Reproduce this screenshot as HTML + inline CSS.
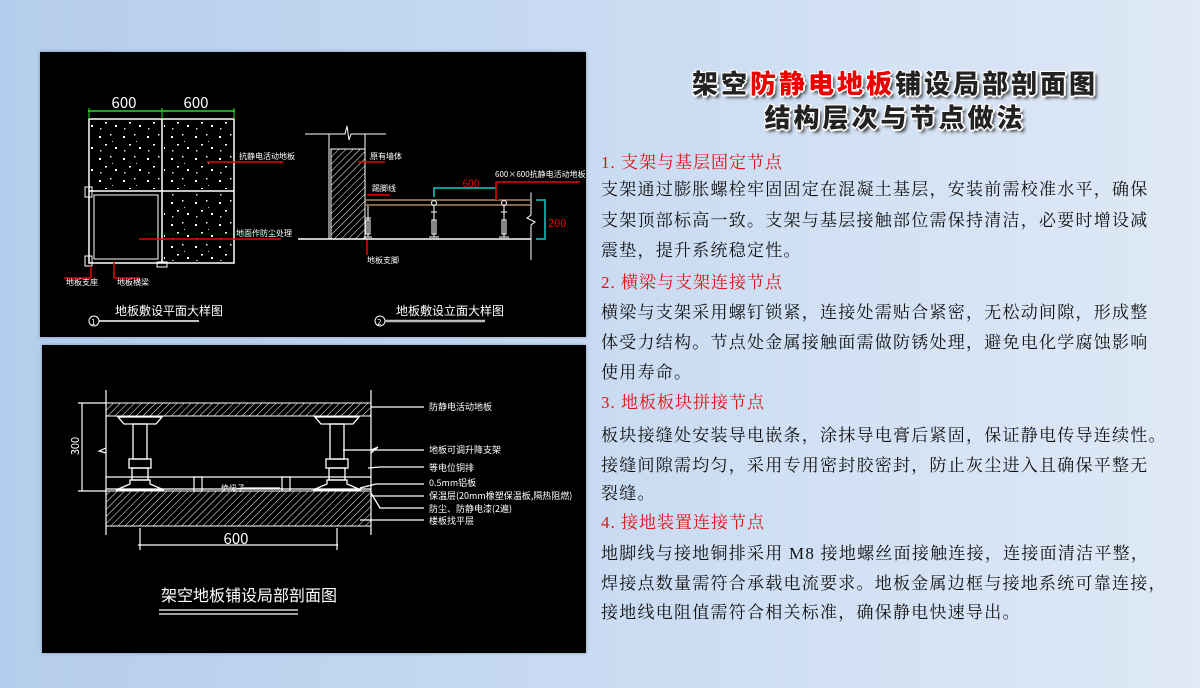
<!DOCTYPE html>
<html><head><meta charset="utf-8"><style>
html,body{margin:0;padding:0}
body{width:1200px;height:688px;position:relative;overflow:hidden;background:linear-gradient(90deg,#b4cdec 0%,#c9dbf2 50%,#dfe9f7 100%);font-family:"Liberation Serif","Noto Serif CJK SC",serif}
.panel{position:absolute;background:#000;box-shadow:0 0 3px rgba(80,100,140,.6)}
.t{position:absolute;left:601px;white-space:nowrap;font-size:17px;letter-spacing:1.25px;line-height:30px;color:#111}
.h{color:#e01010;letter-spacing:1px}
.title{position:absolute;left:600px;width:590px;text-align:center;font-family:"Noto Sans CJK SC",sans-serif;font-weight:900;font-size:26px;letter-spacing:3px;color:#222;text-shadow:-1px -1px 0 #fff,1px -1px 0 #fff,-1px 1px 0 #fff,1px 1px 0 #fff,0 2px 0 #fff,2px 0 0 #fff,3px 3px 3px #333}
.title span{color:#e00}
svg text{font-family:"Noto Sans CJK SC",sans-serif;fill:#fff}
</style></head><body>
<div class="panel" style="left:40px;top:52px;width:546px;height:285px"></div>
<div class="panel" style="left:42px;top:345px;width:544px;height:308px"></div>
<svg width="1200" height="688" style="position:absolute;left:0;top:0">
<defs>
<pattern id="sp" width="24" height="22" patternUnits="userSpaceOnUse">
<rect x="3" y="4" width="2" height="2" fill="#fff"/><rect x="14" y="2" width="1.5" height="1.5" fill="#fff"/><rect x="9" y="12" width="2" height="1.5" fill="#fff"/><rect x="19" y="15" width="2" height="2" fill="#fff"/><rect x="4" y="18" width="1.5" height="1.5" fill="#ddd"/><rect x="16" y="9" width="1" height="1" fill="#ccc"/>
</pattern>
<pattern id="hx" width="5" height="5" patternUnits="userSpaceOnUse" patternTransform="rotate(45)"><line x1="0" y1="0" x2="0" y2="5" stroke="#fff" stroke-width="1"/></pattern>
</defs>
<!-- plan -->
<g stroke="#fff" fill="none" stroke-width="1.5">
<rect x="89" y="119" width="145" height="144"/>
<line x1="162" y1="119" x2="162" y2="263"/><line x1="89" y1="191" x2="234" y2="191"/>
<rect x="94" y="195" width="64" height="64" stroke-width="1"/>
</g>
<rect x="91" y="121" width="69" height="68" fill="url(#sp)"/>
<rect x="164" y="121" width="68" height="68" fill="url(#sp)"/>
<rect x="164" y="193" width="68" height="68" fill="url(#sp)"/>
<g stroke="#fff" fill="none" stroke-width="1">
<rect x="85" y="187" width="7" height="10"/><rect x="85" y="256" width="7" height="10"/><rect x="157" y="262" width="10" height="5"/>
</g>
<line x1="88" y1="111" x2="235" y2="111" stroke="#2d2" stroke-width="1.5"/>
<line x1="89" y1="108" x2="89" y2="119" stroke="#2d2"/><line x1="162" y1="108" x2="162" y2="119" stroke="#2d2"/><line x1="234" y1="108" x2="234" y2="119" stroke="#2d2"/>
<text x="124" y="108" font-size="15" text-anchor="middle" font-family="Liberation Sans">600</text>
<text x="196" y="108" font-size="15" text-anchor="middle" font-family="Liberation Sans">600</text>
<g stroke="#e00" stroke-width="1.5"><line x1="207" y1="162" x2="283" y2="162"/><line x1="139" y1="239" x2="281" y2="239"/><line x1="91" y1="266" x2="91" y2="278"/><line x1="64" y1="278" x2="91" y2="278"/><line x1="114" y1="262" x2="114" y2="278"/><line x1="114" y1="278" x2="140" y2="278"/></g>
<text x="239" y="159" font-size="8">抗静电活动地板</text>
<text x="236" y="236" font-size="8">地面作防尘处理</text>
<text x="66" y="285" font-size="8">地板支座</text>
<text x="117" y="285" font-size="8">地板横梁</text>
<text x="115" y="315" font-size="12">地板敷设平面大样图</text>
<circle cx="94" cy="321" r="5" stroke="#fff" fill="none"/><text x="91" y="325" font-size="8">1</text>
<line x1="99" y1="321" x2="199" y2="321" stroke="#fff" stroke-width="1.5"/>
<!-- elevation -->
<rect x="331" y="149" width="34" height="90" fill="url(#hx)" stroke="#fff"/>
<g stroke="#fff" fill="none" stroke-width="1">
<line x1="329" y1="134" x2="329" y2="239"/><line x1="365" y1="134" x2="365" y2="239"/>
<polyline points="305,134 345,134 347,126 349,140 351,134 386,134"/>
<line x1="298" y1="239" x2="531" y2="239" stroke-width="1.5"/>
<polyline points="531,187 531,215 527,218 535,222 531,225 531,260"/>
</g>
<g stroke="#a78a5a" stroke-width="1.5"><line x1="365" y1="200" x2="531" y2="200"/><line x1="365" y1="205" x2="531" y2="205"/></g>
<g stroke="#ddd" fill="none" stroke-width="1.2">
<g transform="translate(368,0)"><line x1="0" y1="206" x2="0" y2="237"/><line x1="-3" y1="218" x2="3" y2="218"/><rect x="-2" y="220" width="4" height="14"/><line x1="-4" y1="237" x2="4" y2="237"/></g>
<g transform="translate(434,0)"><circle cx="0" cy="203" r="2.5"/><line x1="0" y1="206" x2="0" y2="237"/><line x1="-3" y1="212" x2="3" y2="212"/><rect x="-2" y="220" width="4" height="14"/><line x1="-5" y1="237" x2="5" y2="237"/></g>
<g transform="translate(504,0)"><circle cx="0" cy="203" r="2.5"/><line x1="0" y1="206" x2="0" y2="237"/><line x1="-3" y1="212" x2="3" y2="212"/><rect x="-2" y="220" width="4" height="14"/><line x1="-5" y1="237" x2="5" y2="237"/></g>
</g>
<g stroke="#1cc" stroke-width="1.5" fill="none"><polyline points="434,197 434,188 505,188 505,197"/><polyline points="536,200 545,200 545,239 536,239"/></g>
<text x="471" y="187" font-size="10" text-anchor="middle" style="fill:#e00" font-family="Liberation Sans">600</text>
<text x="548" y="227" font-size="11" style="fill:#e00" font-family="Liberation Sans">200</text>
<g stroke="#e00" stroke-width="1.5"><line x1="358" y1="162" x2="385" y2="162"/><line x1="367" y1="195" x2="390" y2="195"/><line x1="367" y1="240" x2="367" y2="255"/><polyline points="496,200 496,182 580,182"/></g>
<text x="370" y="159" font-size="8">原有墙体</text>
<text x="372" y="191" font-size="8">踢脚线</text>
<text x="367" y="263" font-size="8">地板支脚</text>
<text x="495" y="177" font-size="8" font-family="Liberation Sans">600×600抗静电活动地板</text>
<text x="396" y="315" font-size="12">地板敷设立面大样图</text>
<circle cx="380" cy="321" r="5" stroke="#fff" fill="none"/><text x="377" y="325" font-size="8">2</text>
<line x1="385" y1="321" x2="485" y2="321" stroke="#bbb" stroke-width="2.5"/>
<!-- section -->
<rect x="106" y="403" width="265" height="13" fill="url(#hx)" stroke="#fff"/>
<rect x="106" y="491" width="265" height="35" fill="url(#hx)" stroke="#fff"/>
<g stroke="#fff" fill="none" stroke-width="1.2">
<line x1="106" y1="390" x2="106" y2="535"/><line x1="371" y1="390" x2="371" y2="535"/>
<line x1="78" y1="403" x2="106" y2="403"/><line x1="78" y1="491" x2="106" y2="491"/><line x1="82" y1="403" x2="82" y2="491"/>
<line x1="106" y1="477" x2="371" y2="477"/><line x1="106" y1="489" x2="371" y2="489"/>
<rect x="194" y="477" width="8" height="14"/><rect x="282" y="477" width="8" height="14"/>
<polyline points="106,448 99,451 106,453"/><polyline points="371,450 378,447 371,453"/>
<line x1="138" y1="545" x2="338" y2="545"/><line x1="140" y1="528" x2="140" y2="550"/><line x1="337" y1="528" x2="337" y2="550"/>
<line x1="242" y1="488" x2="280" y2="488"/>
</g>
<g stroke="#fff" fill="none" stroke-width="1.3">
<g transform="translate(140,0)"><path d="M-22,417 h44 l-6,7 h-32 z"/><rect x="-7" y="424" width="14" height="35"/><rect x="-11" y="459" width="22" height="9"/><rect x="-8" y="468" width="16" height="12"/><path d="M-10,480 h20 v4 l14,6 h-48 l14,-6 z"/></g>
<g transform="translate(337,0)"><path d="M-22,417 h44 l-6,7 h-32 z"/><rect x="-7" y="424" width="14" height="35"/><rect x="-11" y="459" width="22" height="9"/><rect x="-8" y="468" width="16" height="12"/><path d="M-10,480 h20 v4 l14,6 h-48 l14,-6 z"/></g>
<line x1="371" y1="407" x2="424" y2="407"/><line x1="343" y1="450" x2="424" y2="450"/>
<polyline points="368,468 380,467 424,467"/><polyline points="360,488 376,484 424,484"/>
<line x1="371" y1="496" x2="424" y2="496"/><polyline points="371,493 380,508 424,508"/><line x1="360" y1="520" x2="424" y2="520"/>
</g>
<text x="73" y="452" font-size="11" transform="rotate(-90 73 446)" text-anchor="middle" font-family="Liberation Sans">300</text>
<text x="236" y="544" font-size="15" text-anchor="middle" font-family="Liberation Sans">600</text>
<text x="221" y="491" font-size="8">绝缘子</text>
<g font-size="9"><text x="429" y="410">防静电活动地板</text><text x="429" y="453">地板可调升降支架</text><text x="429" y="471">等电位铜排</text><text x="429" y="486">0.5mm铝板</text><text x="429" y="499">保温层(20mm橡塑保温板,隔热阻燃)</text><text x="429" y="512">防尘、防静电漆(2遍)</text><text x="429" y="524">楼板找平层</text></g>
<text x="161" y="601" font-size="16">架空地板铺设局部剖面图</text>
<line x1="159" y1="610" x2="298" y2="610" stroke="#fff" stroke-width="1.2"/><line x1="159" y1="614" x2="298" y2="614" stroke="#fff" stroke-width="1.2"/>
</svg>
<div class="title" style="top:64px">架空<span>防静电地板</span>铺设局部剖面图</div>
<div class="title" style="top:98px">结构层次与节点做法</div>
<div class="t h" style="top:148px">1. 支架与基层固定节点</div>
<div class="t" style="top:175px">支架通过膨胀螺栓牢固固定在混凝土基层，安装前需校准水平，确保</div>
<div class="t" style="top:206px">支架顶部标高一致。支架与基层接触部位需保持清洁，必要时增设减</div>
<div class="t" style="top:236px">震垫，提升系统稳定性。</div>
<div class="t h" style="top:268px">2. 横梁与支架连接节点</div>
<div class="t" style="top:298px">横梁与支架采用螺钉锁紧，连接处需贴合紧密，无松动间隙，形成整</div>
<div class="t" style="top:328px">体受力结构。节点处金属接触面需做防锈处理，避免电化学腐蚀影响</div>
<div class="t" style="top:358px">使用寿命。</div>
<div class="t h" style="top:388px">3. 地板板块拼接节点</div>
<div class="t" style="top:421px">板块接缝处安装导电嵌条，涂抹导电膏后紧固，保证静电传导连续性。</div>
<div class="t" style="top:451px">接缝间隙需均匀，采用专用密封胶密封，防止灰尘进入且确保平整无</div>
<div class="t" style="top:479px">裂缝。</div>
<div class="t h" style="top:508px">4. 接地装置连接节点</div>
<div class="t" style="top:539px">地脚线与接地铜排采用 M8 接地螺丝面接触连接，连接面清洁平整，</div>
<div class="t" style="top:569px">焊接点数量需符合承载电流要求。地板金属边框与接地系统可靠连接，</div>
<div class="t" style="top:598px">接地线电阻值需符合相关标准，确保静电快速导出。</div>
</body></html>
